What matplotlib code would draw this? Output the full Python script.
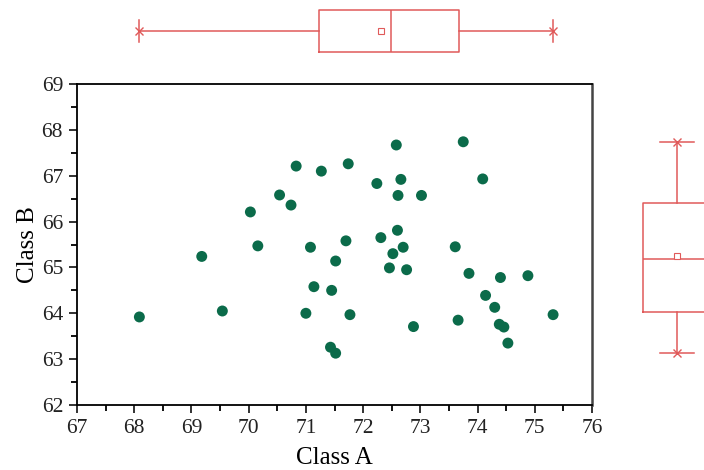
import matplotlib
matplotlib.use("Agg")
import matplotlib.pyplot as plt
import numpy as np

# Class A / Class B readings
class_a = [68.09, 69.18, 69.54, 70.03, 70.16, 70.54, 70.74, 70.83, 71.00, 71.08,
           71.14, 71.27, 71.43, 71.45, 71.52, 71.52, 71.70, 71.74, 71.77, 72.24,
           72.31, 72.46, 72.52, 72.58, 72.60, 72.61, 72.66, 72.70, 72.76, 72.88,
           73.02, 73.61, 73.66, 73.75, 73.85, 74.09, 74.14, 74.30, 74.38, 74.40,
           74.46, 74.53, 74.88, 75.32]
class_b = [63.92, 65.24, 64.05, 66.21, 65.47, 66.58, 66.36, 67.21, 64.00, 65.44,
           64.58, 67.10, 63.26, 64.50, 63.13, 65.14, 65.58, 67.26, 63.97, 66.83,
           65.65, 64.99, 65.30, 67.67, 65.81, 66.57, 66.92, 65.44, 64.95, 63.71,
           66.57, 65.45, 63.85, 67.74, 64.87, 66.93, 64.39, 64.13, 63.76, 64.78,
           63.70, 63.35, 64.82, 63.97]

x_ticks = [67, 68, 69, 70, 71, 72, 73, 74, 75, 76]
y_ticks = [62, 63, 64, 65, 66, 67, 68, 69]

plt.rcParams['font.family'] = ['Liberation Serif', 'DejaVu Serif']

W, H = 704, 470
fig = plt.figure(figsize=(W / 100, H / 100), dpi=100)

box_col = '#e05a5a'
dot_col = '#0b6b4a'

# main scatter
ax = fig.add_axes([77 / W, (H - 405) / H, 515 / W, 321 / H])
ax.scatter(class_a, class_b, s=62, color=dot_col, edgecolors='none', zorder=3)
ax.set_xlim(67, 76)
ax.set_ylim(62, 69)
ax.set_xticks(x_ticks)
ax.set_yticks(y_ticks)
ax.set_xticks(np.arange(67.5, 76, 1), minor=True)
ax.set_yticks(np.arange(62.5, 69, 1), minor=True)
ax.tick_params(which='major', direction='out', length=6, width=1.3, labelsize=15.5,
               colors='#222222', pad=4)
ax.tick_params(which='minor', direction='out', length=4, width=1.3)
for side in ['left', 'bottom', 'top']:
    ax.spines[side].set_linewidth(1.3)
ax.spines['right'].set_linewidth(1.8)
ax.spines['right'].set_color('#444444')
ax.set_xlabel('Class A', fontsize=18, labelpad=6.5)
ax.set_ylabel('Class B', fontsize=18, labelpad=2)

box_kw = dict(whis=(0, 100), widths=1, showmeans=True, showfliers=False,
              boxprops=dict(color=box_col, linewidth=1.1),
              medianprops=dict(color=box_col, linewidth=1.1),
              whiskerprops=dict(color=box_col, linewidth=1.1),
              capprops=dict(color=box_col, linewidth=1.1),
              meanprops=dict(marker='s', markersize=4, markerfacecolor='white',
                             markeredgecolor=box_col, markeredgewidth=0.8),
              capwidths=0.5)

# top box for Class A
ax_top = fig.add_axes([77 / W, (H - 57) / H, 515 / W, 52 / H])
ax_top.boxplot(class_a, positions=[0], orientation='horizontal', **box_kw)
ax_top.plot([min(class_a), max(class_a)], [0, 0], 'x', color=box_col, markersize=6, mew=1)
ax_top.set_xlim(67, 76)
ax_top.set_ylim(-0.605, 0.605)
ax_top.axis('off')

# right box for Class B
ax_right = fig.add_axes([633 / W, (H - 405) / H, 88 / W, 321 / H])
ax_right.boxplot(class_b, positions=[0], **box_kw)
ax_right.plot([0, 0], [min(class_b), max(class_b)], 'x', color=box_col, markersize=6, mew=1)
ax_right.set_xlim(-0.647, 0.647)
ax_right.set_ylim(62, 69)
ax_right.axis('off')

fig.savefig('out.png', dpi=100)
